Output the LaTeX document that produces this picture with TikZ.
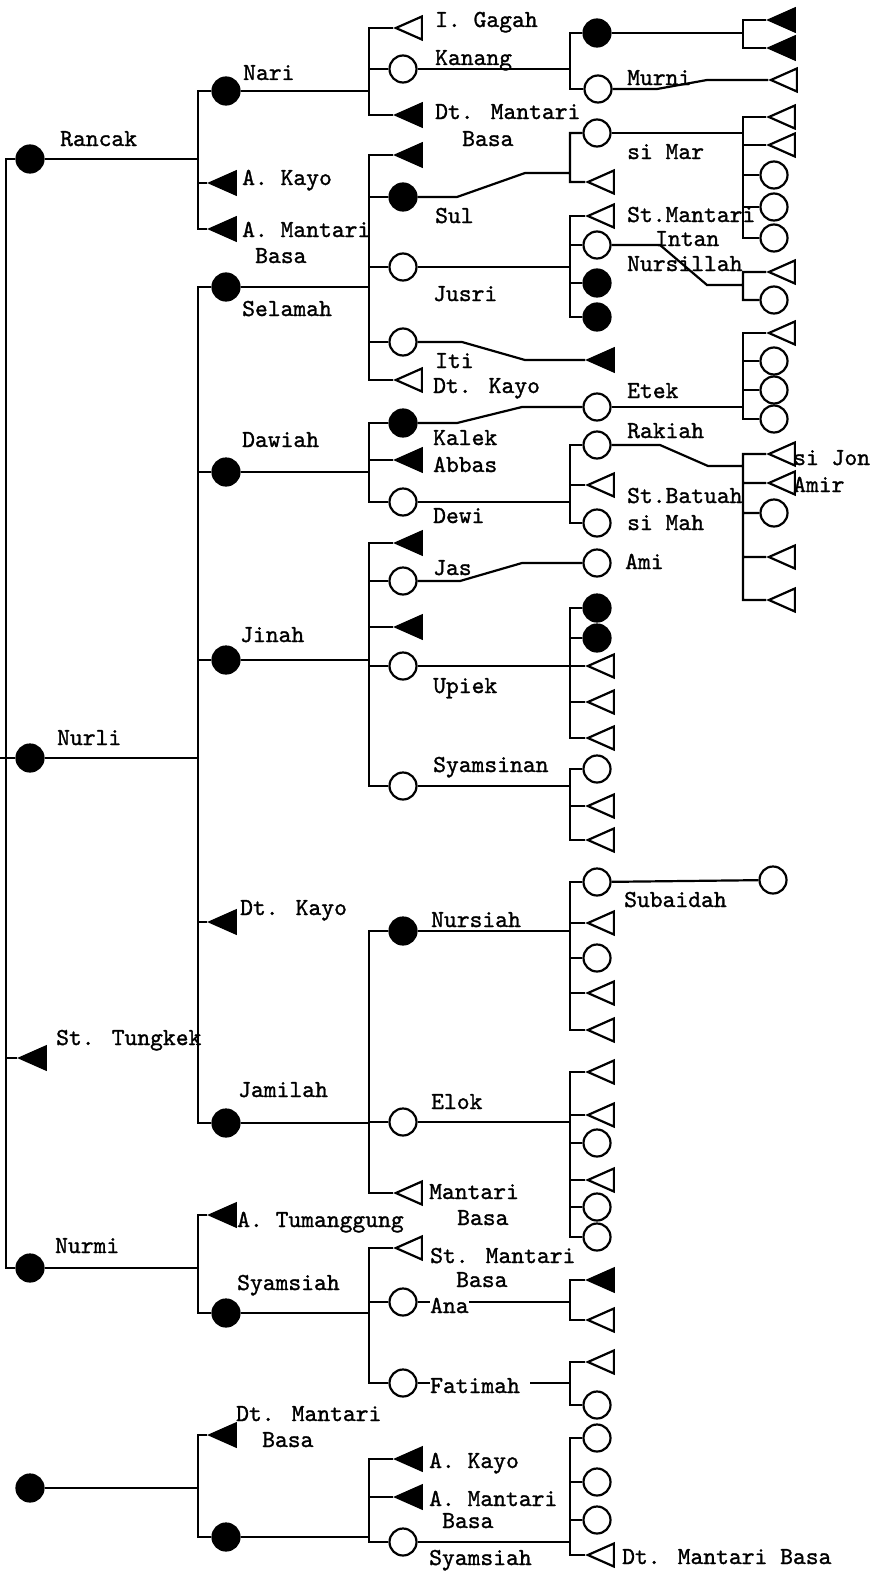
\documentclass[tikz,border=0pt]{standalone}
\usepackage{fontspec}
\newfontfamily\tagfont{lmmono10-regular}[Extension=.otf, FakeBold=1.2]
\usetikzlibrary{shapes.geometric}

\begin{document}
\begin{tikzpicture}[
    x=1pt, y=-1pt,
    link/.style={line width=2.2pt},
    female/.style={circle, draw, line width=2.2pt, fill=white, minimum size=27pt, inner sep=0pt},
    male/.style={isosceles triangle, isosceles triangle stretches, shape border rotate=180, draw, line width=2.2pt, fill=white, minimum width=23pt, minimum height=26pt, inner sep=0pt, anchor=apex},
    lbl/.style={font=\tagfont\fontsize{24.4}{26}\selectfont, anchor=base west, inner sep=0pt}
]
    \useasboundingbox (0,0) rectangle (881,1571);

    % first generation
    \node[female, fill=black] (rancak) at (30,159) {};
    \node[female, fill=black] (nurli) at (30,758) {};
    \node[male, fill=black] (tungkek) at (17,1058) {};
    \node[female, fill=black] (nurmi) at (30,1268) {};
    \node[female, fill=black] (ibu) at (30,1488) {};
    \node[lbl] (lrancak) at (60,146) {Rancak};
    \node[lbl] (lnurli) at (57,745) {Nurli};
    \node[lbl] (ltungkek) at (56,1045) {St. Tungkek};
    \node[lbl] (lnurmi) at (55,1253) {Nurmi};
    \coordinate (top) at (6,159);
    \coordinate (bot) at (6,1268);
    \coordinate (stub) at (0,758);

    % second generation
    \coordinate (jrancak) at (198,159);
    \node[female, fill=black] (nari) at (226,91) {};
    \node[male, fill=black] (akayo) at (207,183) {};
    \node[male, fill=black] (amantari) at (207,229) {};
    \node[lbl] (lnari) at (243,80) {Nari};
    \node[lbl] (lakayo) at (242,185) {A. Kayo};
    \node[lbl] (lamantari) at (242,237) {A. Mantari};
    \node[lbl] (lamantarib) at (255,263) {Basa};

    \coordinate (jnurli) at (198,758);
    \node[female, fill=black] (selamah) at (226,287) {};
    \node[female, fill=black] (dawiah) at (226,472) {};
    \node[female, fill=black] (jinah) at (226,660) {};
    \node[male, fill=black] (dtkayo) at (207,922) {};
    \node[female, fill=black] (jamilah) at (226,1123) {};
    \node[lbl] (lselamah) at (242,316) {Selamah};
    \node[lbl] (ldawiah) at (242,447) {Dawiah};
    \node[lbl] (ljinah) at (240,642) {Jinah};
    \node[lbl] (ldtkayo) at (240,915) {Dt. Kayo};
    \node[lbl] (ljamilah) at (238,1097) {Jamilah};

    \coordinate (jnurmi) at (198,1268);
    \node[male, fill=black] (tumanggung) at (207,1215) {};
    \node[female, fill=black] (syamsiah) at (226,1313) {};
    \node[lbl] (ltumanggung) at (237,1227) {A. Tumanggung};
    \node[lbl] (lsyamsiah) at (237,1290) {Syamsiah};

    \coordinate (jibu) at (198,1488);
    \node[male, fill=black] (dtmantari) at (207,1435) {};
    \node[female, fill=black] (anak) at (226,1537) {};
    \node[lbl] (ldtmantari) at (236,1421) {Dt. Mantari};
    \node[lbl] (ldtmantarib) at (262,1447) {Basa};

    % third generation
    \coordinate (jnari) at (369,91);
    \node[male] (gagah) at (393,28) {};
    \node[female] (kanang) at (403,69) {};
    \node[male, fill=black] (dtmb) at (393,115) {};
    \node[lbl] (lgagah) at (435,27) {I. Gagah};
    \node[lbl] (lkanang) at (435,65) {Kanang};
    \node[lbl] (ldtmb) at (435,119) {Dt. Mantari};
    \node[lbl] (ldtmbb) at (462,146) {Basa};

    \coordinate (jselamah) at (369,287);
    \node[male, fill=black] (sel1) at (393,155) {};
    \node[female, fill=black] (sul) at (403,197) {};
    \node[female] (jusri) at (403,267) {};
    \node[female] (iti) at (403,342) {};
    \node[male] (dtkayob) at (393,380) {};
    \node[lbl] (lsul) at (435,223) {Sul};
    \node[lbl] (ljusri) at (433,301) {Jusri};
    \node[lbl] (liti) at (435,368) {Iti};
    \node[lbl] (ldtkayob) at (433,393) {Dt. Kayo};

    \coordinate (jdawiah) at (369,472);
    \node[female, fill=black] (kalek) at (403,423) {};
    \node[male, fill=black] (abbas) at (393,460) {};
    \node[female] (dewi) at (403,502) {};
    \node[lbl] (lkalek) at (433,445) {Kalek};
    \node[lbl] (labbas) at (433,472) {Abbas};
    \node[lbl] (ldewi) at (433,523) {Dewi};

    \coordinate (jjinah) at (369,660);
    \node[male, fill=black] (jin1) at (393,543) {};
    \node[female] (jas) at (403,581) {};
    \node[male, fill=black] (jin2) at (393,627) {};
    \node[female] (upiek) at (403,666) {};
    \node[female] (syamsinan) at (403,786) {};
    \node[lbl] (ljas) at (433,575) {Jas};
    \node[lbl] (lupiek) at (433,693) {Upiek};
    \node[lbl] (lsyamsinan) at (433,772) {Syamsinan};

    \coordinate (jjamilah) at (369,1123);
    \node[female, fill=black] (nursiah) at (403,931) {};
    \node[female] (elok) at (403,1122) {};
    \node[male] (mantari) at (393,1193) {};
    \node[lbl] (lnursiah) at (431,927) {Nursiah};
    \node[lbl] (lelok) at (431,1109) {Elok};
    \node[lbl] (lmantari) at (429,1199) {Mantari};
    \node[lbl] (lmantarib) at (457,1225) {Basa};

    \coordinate (jsyamsiah) at (369,1313);
    \node[male] (stmantari) at (393,1248) {};
    \node[female] (ana) at (403,1302) {};
    \node[female] (fatimah) at (403,1383) {};
    \node[lbl] (lstmantari) at (430,1263) {St. Mantari};
    \node[lbl] (lstmantarib) at (456,1287) {Basa};
    \node[lbl] (lana) at (430,1313) {Ana};
    \node[lbl] (lfatimah) at (430,1393) {Fatimah};

    \coordinate (janak) at (369,1537);
    \node[male, fill=black] (bkayo) at (393,1459) {};
    \node[male, fill=black] (bmantari) at (393,1497) {};
    \node[female] (syamsiahb) at (403,1542) {};
    \node[lbl] (lbkayo) at (429,1468) {A. Kayo};
    \node[lbl] (lbmantari) at (429,1506) {A. Mantari};
    \node[lbl] (lbmantarib) at (442,1528) {Basa};
    \node[lbl] (lsyamsiahb) at (429,1565) {Syamsiah};

    % fourth generation
    \coordinate (jkanang) at (570,69);
    \node[female, fill=black] (kanang1) at (597,33) {};
    \node[female] (murni) at (598,89) {};
    \node[lbl] (lmurni) at (627,85) {Murni};

    \coordinate (jsul) at (570,173);
    \node[female] (simar) at (597,133) {};
    \node[male] (sul1) at (585,182) {};
    \node[lbl] (lsimar) at (627,159) {si Mar};
    \node[lbl] (lstmantaric) at (627,222) {St.Mantari};

    \coordinate (jjusri) at (570,267);
    \node[male] (jus1) at (585,216) {};
    \node[female] (intan) at (597,245) {};
    \node[female, fill=black] (jus2) at (597,283) {};
    \node[female, fill=black] (jus3) at (597,317) {};
    \node[lbl] (lintan) at (655,246) {Intan};
    \node[lbl] (lnursillah) at (627,271) {Nursillah};

    \node[male, fill=black] (itim) at (585,360) {};
    \node[female] (etek) at (597,407) {};
    \node[lbl] (letek) at (627,398) {Etek};

    \coordinate (jdewi) at (570,502);
    \node[female] (rakiah) at (597,445) {};
    \node[male] (dew1) at (585,485) {};
    \node[female] (simah) at (597,523) {};
    \node[lbl] (lrakiah) at (627,438) {Rakiah};
    \node[lbl] (lstbatuah) at (627,503) {St.Batuah};
    \node[lbl] (lsimah) at (627,530) {si Mah};

    \node[female] (ami) at (597,563) {};
    \node[lbl] (lami) at (625,569) {Ami};

    \coordinate (jupiek) at (570,666);
    \node[female, fill=black] (up1) at (597,608) {};
    \node[female, fill=black] (up2) at (597,638) {};
    \node[male] (up3) at (585,666) {};
    \node[male] (up4) at (585,702) {};
    \node[male] (up5) at (585,738) {};

    \coordinate (jsyamsinan) at (570,786);
    \node[female] (sy1) at (597,769) {};
    \node[male] (sy2) at (585,806) {};
    \node[male] (sy3) at (585,840) {};

    \coordinate (jnursiah) at (570,931);
    \node[female] (subaidah) at (597,882) {};
    \node[male] (nu1) at (585,923) {};
    \node[female] (nu2) at (597,958) {};
    \node[male] (nu3) at (585,993) {};
    \node[male] (nu4) at (585,1030) {};
    \node[lbl] (lsubaidah) at (624,907) {Subaidah};

    \coordinate (jelok) at (570,1122);
    \node[male] (el1) at (585,1072) {};
    \node[male] (el2) at (585,1115) {};
    \node[female] (el3) at (597,1143) {};
    \node[male] (el4) at (585,1180) {};
    \node[female] (el5) at (597,1207) {};
    \node[female] (el6) at (597,1237) {};

    \coordinate (jana) at (570,1302);
    \node[male, fill=black] (an1) at (585,1280) {};
    \node[male] (an2) at (585,1320) {};

    \coordinate (jfatimah) at (570,1383);
    \coordinate (fgap) at (530,1383);
    \node[male] (fa1) at (585,1362) {};
    \node[female] (fa2) at (597,1405) {};

    \coordinate (jsyamsiahb) at (570,1542);
    \node[female] (sb1) at (597,1438) {};
    \node[female] (sb2) at (597,1482) {};
    \node[female] (sb3) at (597,1520) {};
    \node[male] (sb4) at (585,1555) {};
    \node[lbl] (lsb4) at (622,1564) {Dt. Mantari Basa};

    % fifth generation
    \coordinate (jkanang1) at (743,33);
    \node[male, fill=black] (kk1) at (766,20) {};
    \node[male, fill=black] (kk2) at (766,48) {};
    \node[male] (murnim) at (768,80) {};

    \coordinate (jsimar) at (743,133);
    \node[male] (m1) at (766,117) {};
    \node[male] (m2) at (766,145) {};
    \node[female] (m3) at (774,175) {};
    \node[female] (m4) at (774,207) {};
    \node[female] (m5) at (774,238) {};

    \coordinate (jintan) at (743,285);
    \node[male] (i1) at (766,272) {};
    \node[female] (i2) at (774,300) {};

    \coordinate (jetek) at (743,407);
    \node[male] (e1) at (766,333) {};
    \node[female] (e2) at (774,361) {};
    \node[female] (e3) at (774,390) {};
    \node[female] (e4) at (774,419) {};

    \coordinate (jrakiah) at (743,466);
    \node[male] (r1) at (766,454) {};
    \node[male] (r2) at (766,483) {};
    \node[female] (r3) at (774,513) {};
    \node[male] (r4) at (766,557) {};
    \node[male] (r5) at (766,600) {};
    \node[lbl] (lsijon) at (793,465) {si Jon};
    \node[lbl] (lamir) at (793,492) {Amir};

    \node[female] (subaidah2) at (773,880) {};

    % lines
    \draw[link] (rancak) -- (top) -- (bot) -- (nurmi);
    \draw[link] (stub) -- (nurli);
    \draw[link] (tungkek) -- (tungkek -| top);

    \draw[link] (rancak) -- (jrancak) (nari) -| (jrancak) (akayo) -| (jrancak) (amantari) -| (jrancak);
    \draw[link] (nurli) -- (jnurli) (selamah) -| (jnurli) (dawiah) -| (jnurli) (jinah) -| (jnurli) (dtkayo) -| (jnurli) (jamilah) -| (jnurli);
    \draw[link] (nurmi) -- (jnurmi) (tumanggung) -| (jnurmi) (syamsiah) -| (jnurmi);
    \draw[link] (ibu) -- (jibu) (dtmantari) -| (jibu) (anak) -| (jibu);

    \draw[link] (nari) -- (jnari) (gagah) -| (jnari) (kanang) -| (jnari) (dtmb) -| (jnari);
    \draw[link] (selamah) -- (jselamah) (sel1) -| (jselamah) (sul) -| (jselamah) (jusri) -| (jselamah) (iti) -| (jselamah) (dtkayob) -| (jselamah);
    \draw[link] (dawiah) -- (jdawiah) (kalek) -| (jdawiah) (abbas) -| (jdawiah) (dewi) -| (jdawiah);
    \draw[link] (jinah) -- (jjinah) (jin1) -| (jjinah) (jas) -| (jjinah) (jin2) -| (jjinah) (upiek) -| (jjinah) (syamsinan) -| (jjinah);
    \draw[link] (jamilah) -- (jjamilah) (nursiah) -| (jjamilah) (elok) -| (jjamilah) (mantari) -| (jjamilah);
    \draw[link] (syamsiah) -- (jsyamsiah) (stmantari) -| (jsyamsiah) (ana) -| (jsyamsiah) (fatimah) -| (jsyamsiah);
    \draw[link] (anak) -- (janak) (bkayo) -| (janak) (bmantari) -| (janak) (syamsiahb) -| (janak);

    \draw[link] (kanang) -- (jkanang) (kanang1) -| (jkanang) (murni) -| (jkanang);
    \draw[link] (sul) -- (457,197) -- (525,173) -- (jsul) (simar) -| (jsul) (sul1) -| (jsul);
    \draw[link] (jusri) -- (jjusri) (jus1) -| (jjusri) (intan) -| (jjusri) (jus2) -| (jjusri) (jus3) -| (jjusri);
    \draw[link] (iti) -- (462,342) -- (525,360) -- (itim);
    \draw[link] (kalek) -- (457,423) -- (522,407) -- (etek);
    \draw[link] (dewi) -- (jdewi) (rakiah) -| (jdewi) (dew1) -| (jdewi) (simah) -| (jdewi);
    \draw[link] (jas) -- (460,581) -- (522,563) -- (ami);
    \draw[link] (upiek) -- (jupiek) (up1) -| (jupiek) (up2) -| (jupiek) (up3) -| (jupiek) (up4) -| (jupiek) (up5) -| (jupiek);
    \draw[link] (syamsinan) -- (jsyamsinan) (sy1) -| (jsyamsinan) (sy2) -| (jsyamsinan) (sy3) -| (jsyamsinan);
    \draw[link] (nursiah) -- (jnursiah) (subaidah) -| (jnursiah) (nu1) -| (jnursiah) (nu2) -| (jnursiah) (nu3) -| (jnursiah) (nu4) -| (jnursiah);
    \draw[link] (elok) -- (jelok) (el1) -| (jelok) (el2) -| (jelok) (el3) -| (jelok) (el4) -| (jelok) (el5) -| (jelok) (el6) -| (jelok);
    \draw[link] (ana) -- (ana -| lana.west) (lana.east |- ana) -- (jana) (an1) -| (jana) (an2) -| (jana);
    \draw[link] (fatimah) -- (fatimah -| lfatimah.west) (fgap) -- (jfatimah) (fa1) -| (jfatimah) (fa2) -| (jfatimah);
    \draw[link] (syamsiahb) -- (jsyamsiahb) (sb1) -| (jsyamsiahb) (sb2) -| (jsyamsiahb) (sb3) -| (jsyamsiahb) (sb4) -| (jsyamsiahb);

    \draw[link] (kanang1) -- (jkanang1) (kk1) -| (jkanang1) (kk2) -| (jkanang1);
    \draw[link] (murni) -- (657,89) -- (707,80) -- (murnim);
    \draw[link] (simar) -- (jsimar) (m1) -| (jsimar) (m2) -| (jsimar) (m3) -| (jsimar) (m4) -| (jsimar) (m5) -| (jsimar);
    \draw[link] (intan) -- (660,245) -- (707,285) -- (jintan) (i1) -| (jintan) (i2) -| (jintan);
    \draw[link] (etek) -- (jetek) (e1) -| (jetek) (e2) -| (jetek) (e3) -| (jetek) (e4) -| (jetek);
    \draw[link] (rakiah) -- (660,445) -- (708,466) -- (jrakiah) (r1) -| (jrakiah) (r2) -| (jrakiah) (r3) -| (jrakiah) (r4) -| (jrakiah) (r5) -| (jrakiah);
    \draw[link] (subaidah) -- (subaidah2);
\end{tikzpicture}
\end{document}
